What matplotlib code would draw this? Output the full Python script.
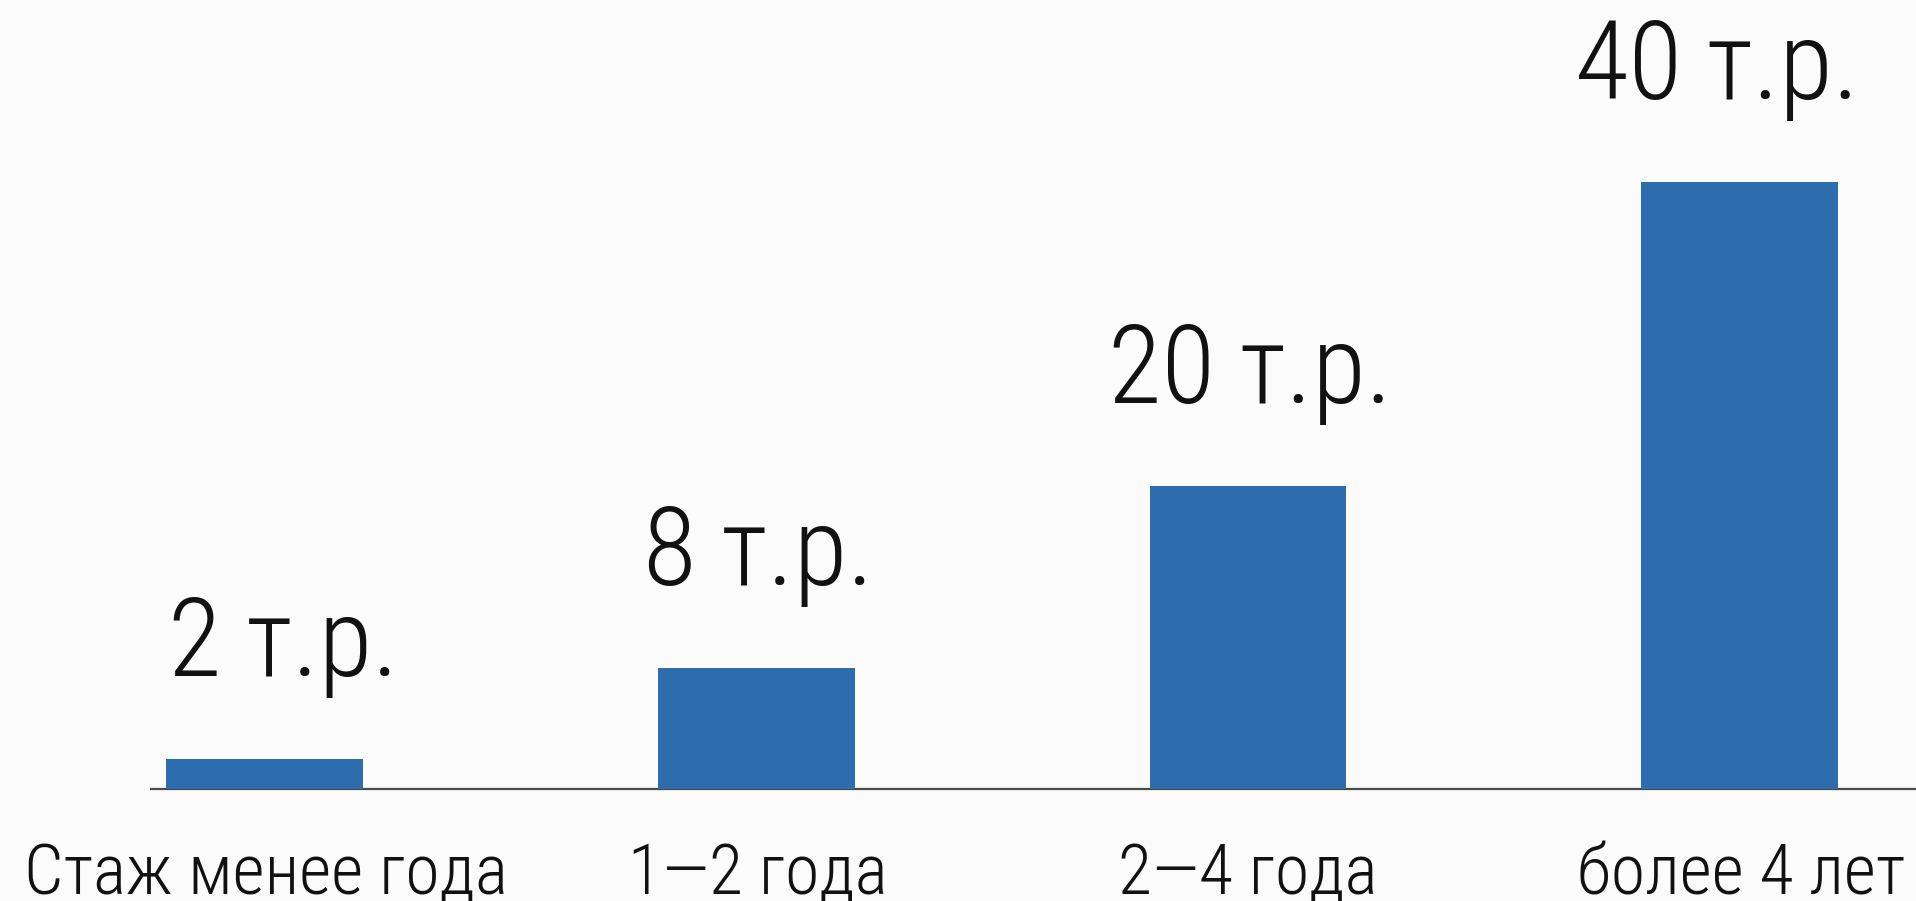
"""Average pay by length of service: simple bar chart with value labels."""
import matplotlib

matplotlib.use("Agg")
import matplotlib.pyplot as plt  # noqa: E402

categories = ["Стаж менее года", "1—2 года", "2—4 года", "более 4 лет"]
values = [2, 8, 20, 40]
unit = "т.р."

BAR = "#2e6dad"
BG = "#fbfbfb"
INK = "#111111"
DPI = 100

# narrow DIN-like face first, plain fallbacks after it
plt.rcParams["font.family"] = ["Roboto Condensed", "Roboto", "DejaVu Sans"]
plt.rcParams["font.weight"] = 300


def px(v):
    # pixel offsets -> points
    return v * 72 / DPI


fig = plt.figure(figsize=(19.16, 9.01), dpi=DPI, facecolor=BG)
ax = fig.add_axes([0, 0, 1, 1])
ax.set_facecolor(BG)
ax.axis("off")

x = list(range(len(values)))
ax.bar(x, values, width=0.40, color=BAR, zorder=2)
ax.set_xlim(-0.538, 3.359)
ax.set_ylim(-7.38, 52.0)

# thin baseline under the bars
ax.hlines(0, -0.233, 3.36, color="#4a4a4a", linewidth=1.6, zorder=1)

# value labels above each bar (small horizontal nudges, in px)
value_dx = [19, 2, 2, -22]
for i, v, dx in zip(x, values, value_dx):
    ax.annotate(f"{v} {unit}", (i, v), xytext=(px(dx), px(83)),
                textcoords="offset points", ha="center", va="baseline",
                fontsize=px(110), color=INK)

# category labels under the baseline; the outer two are pushed to the edges
label_align = [("left", -241), ("center", 2), ("center", 0), ("right", 166)]
for i, name, (ha, dx) in zip(x, categories, label_align):
    ax.annotate(name, (i, 0), xytext=(px(dx), -px(105)),
                textcoords="offset points", ha=ha, va="baseline",
                fontsize=px(70), color=INK)

fig.savefig("out.png", dpi=DPI, facecolor=BG)
